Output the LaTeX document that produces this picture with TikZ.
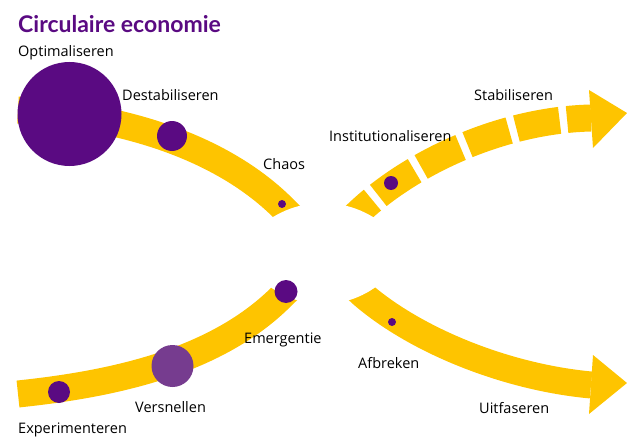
\documentclass[tikz,border=0pt]{standalone}
\usepackage{fontspec}
\setmainfont{Open Sans}
\newfontfamily\headfont{Lato}
\usetikzlibrary{calc, positioning}
\definecolor{amber}{RGB}{254,196,0}
\definecolor{cepurple}{RGB}{90,10,130}
\definecolor{cemauve}{RGB}{118,60,143}

\begin{document}
\begin{tikzpicture}
    [
        x=1pt, y=-1pt,
        band/.style={draw=amber, line width=27pt},
        dot/.style={circle, fill=cepurple, inner sep=0pt},
        lbl/.style={anchor=base west, inner sep=0pt, font=\fontsize{14.5}{17}\selectfont}
    ]
    \tikzstyle{gap} = [dash pattern=on 44pt off 7.5pt, dash phase=20pt]
    \tikzstyle{head} = [fill=amber]

    \useasboundingbox (0,0) rectangle (627,444);

    % Title
    \node[lbl, font=\headfont\fontsize{23}{26}\selectfont\bfseries, text=cepurple] (title) at (18,33) {Circulaire economie};

    % Band ends
    \coordinate (tl_start) at (18,110);
    \coordinate (tl_end) at (286,211);
    \coordinate (tl_cut) at (301,226);
    \coordinate (bl_start) at (18,394);
    \coordinate (bl_end) at (284,294);
    \coordinate (bl_cut) at (299,280);
    \coordinate (tr_cut) at (345,225);
    \coordinate (tr_start) at (360,211);
    \coordinate (tr_end) at (591,118);
    \coordinate (br_cut) at (347,280);
    \coordinate (br_start) at (362,294);
    \coordinate (br_end) at (591,385);

    % Top left band
    \draw[band] (tl_start) .. controls (113,115) and (220,143) .. (tl_end) -- (tl_cut);

    % Bottom left band
    \draw[band] (bl_start) .. controls (113,384) and (218,362) .. (bl_end) -- (bl_cut);

    % Top right band, dashed from the head backwards
    \draw[band, gap] (tr_end) .. controls (505,120) and (415,160) .. (tr_start) -- (tr_cut);
    \fill[head] (589,90) -- (627,113) -- (593,148) -- cycle;

    % Bottom right band
    \draw[band] (br_cut) -- (br_start) .. controls (415,340) and (505,377) .. (br_end);
    \fill[head] (593,355) -- (627,383) -- (589,414) -- cycle;

    % Cut the inner ends
    \begin{scope}
        \clip (323,299) circle[radius=96pt];
        \fill[white] (323,214) circle[radius=90pt];
    \end{scope}

    % Dots
    \node[dot, minimum size=104pt] (optim) at (69.5,114) {};
    \node[dot, minimum size=30pt] (destab) at (172,136) {};
    \node[dot, minimum size=8pt] (chaos) at (282,204) {};
    \node[dot, minimum size=14pt] (instit) at (391,183) {};
    \node[dot, minimum size=22pt] (exper) at (59,392) {};
    \node[dot, minimum size=42pt, fill=cemauve] (versn) at (172.5,366) {};
    \node[dot, minimum size=23pt] (emerg) at (286,291.5) {};
    \node[dot, minimum size=8pt] (afbr) at (392,322) {};

    % Labels
    \node[lbl] (optim_lbl) at (18,57) {Optimaliseren};
    \node[lbl] (destab_lbl) at (122,101) {Destabiliseren};
    \node[lbl] (chaos_lbl) at (263,169) {Chaos};
    \node[lbl] (instit_lbl) at (329,142) {Institutionaliseren};
    \node[lbl] (stab_lbl) at (474,101) {Stabiliseren};
    \node[lbl] (emerg_lbl) at (244,343) {Emergentie};
    \node[lbl] (versn_lbl) at (135,412) {Versnellen};
    \node[lbl] (exper_lbl) at (18,433) {Experimenteren};
    \node[lbl] (afbr_lbl) at (358,368) {Afbreken};
    \node[lbl] (uitf_lbl) at (479,413) {Uitfaseren};
\end{tikzpicture}
\end{document}
